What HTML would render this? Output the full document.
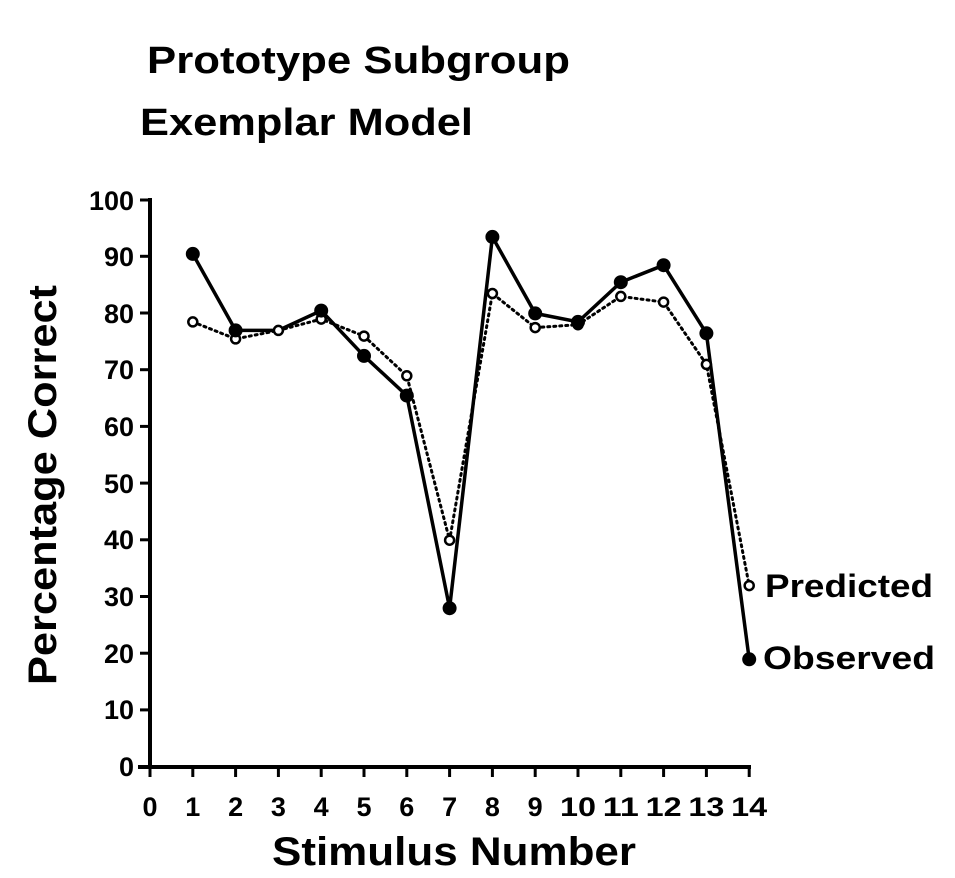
<!DOCTYPE html>
<html><head><style>body{margin:0;background:#fff}</style></head><body>
<svg width="955" height="873" xmlns="http://www.w3.org/2000/svg" font-family="Liberation Sans, sans-serif" font-weight="bold">
<text x="147" y="73" font-size="38" textLength="423" lengthAdjust="spacingAndGlyphs">Prototype Subgroup</text>
<text x="140" y="135" font-size="38" textLength="333" lengthAdjust="spacingAndGlyphs">Exemplar Model</text>
<g stroke="#000" stroke-width="4" fill="none">
<line x1="150" y1="198" x2="150" y2="769"/>
<line x1="138" y1="767" x2="751" y2="767"/>
</g>
<g stroke="#000" stroke-width="3">
<line x1="140" y1="200" x2="150" y2="200"/><line x1="140" y1="256.3" x2="150" y2="256.3"/><line x1="140" y1="313" x2="150" y2="313"/><line x1="140" y1="369.7" x2="150" y2="369.7"/><line x1="140" y1="426.4" x2="150" y2="426.4"/><line x1="140" y1="483.1" x2="150" y2="483.1"/><line x1="140" y1="539.8" x2="150" y2="539.8"/><line x1="140" y1="596.5" x2="150" y2="596.5"/><line x1="140" y1="653.2" x2="150" y2="653.2"/><line x1="140" y1="709.9" x2="150" y2="709.9"/>
<line x1="150" y1="767" x2="150" y2="777"/><line x1="192.8" y1="767" x2="192.8" y2="777"/><line x1="235.6" y1="767" x2="235.6" y2="777"/><line x1="278.4" y1="767" x2="278.4" y2="777"/><line x1="321.2" y1="767" x2="321.2" y2="777"/><line x1="364" y1="767" x2="364" y2="777"/><line x1="406.8" y1="767" x2="406.8" y2="777"/><line x1="449.6" y1="767" x2="449.6" y2="777"/><line x1="492.4" y1="767" x2="492.4" y2="777"/><line x1="535.2" y1="767" x2="535.2" y2="777"/><line x1="578" y1="767" x2="578" y2="777"/><line x1="620.8" y1="767" x2="620.8" y2="777"/><line x1="663.6" y1="767" x2="663.6" y2="777"/><line x1="706.4" y1="767" x2="706.4" y2="777"/><line x1="749.2" y1="767" x2="749.2" y2="777"/>
</g>
<g font-size="27" text-anchor="end">
<text x="134" y="210">100</text><text x="134" y="266">90</text><text x="134" y="323">80</text><text x="134" y="379">70</text><text x="134" y="436">60</text><text x="134" y="493">50</text><text x="134" y="549">40</text><text x="134" y="606">30</text><text x="134" y="663">20</text><text x="134" y="719">10</text><text x="134" y="776">0</text>
</g>
<g font-size="27" text-anchor="middle">
<text x="150" y="816">0</text><text x="192.8" y="816">1</text><text x="235.6" y="816">2</text><text x="278.4" y="816">3</text><text x="321.2" y="816">4</text><text x="364" y="816">5</text><text x="406.8" y="816">6</text><text x="449.6" y="816">7</text><text x="492.4" y="816">8</text><text x="535.2" y="816">9</text><text x="578" y="816" textLength="36" lengthAdjust="spacingAndGlyphs">10</text><text x="620.8" y="816" textLength="36" lengthAdjust="spacingAndGlyphs">11</text><text x="663.6" y="816" textLength="36" lengthAdjust="spacingAndGlyphs">12</text><text x="706.4" y="816" textLength="36" lengthAdjust="spacingAndGlyphs">13</text><text x="749.2" y="816" textLength="36" lengthAdjust="spacingAndGlyphs">14</text>
</g>
<text x="272" y="865" font-size="40" textLength="364" lengthAdjust="spacingAndGlyphs">Stimulus Number</text>
<text transform="translate(56,685) rotate(-90)" font-size="40" textLength="400" lengthAdjust="spacingAndGlyphs">Percentage Correct</text>
<polyline fill="none" stroke="#000" stroke-width="3" stroke-dasharray="2,4" stroke-linecap="round" points="192.8,321.9 235.6,338.9 278.4,330.4 321.2,319.1 364,336.1 406.8,375.8 449.6,540.2 492.4,293.5 535.2,327.6 578,324.7 620.8,296.4 663.6,302.1 706.4,364.4 749.2,585.6"/>
<polyline fill="none" stroke="#000" stroke-width="3.5" points="192.8,253.9 235.6,330.4 278.4,330.4 321.2,310.6 364,355.9 406.8,395.6 449.6,608.2 492.4,236.9 535.2,313.4 578,321.9 620.8,282.2 663.6,265.2 706.4,333.3 749.2,659.3"/>
<g fill="#fff" stroke="#000" stroke-width="2.5">
<circle cx="192.8" cy="321.9" r="4.5"/><circle cx="235.6" cy="338.9" r="4.5"/><circle cx="278.4" cy="330.4" r="4.5"/><circle cx="321.2" cy="319.1" r="4.5"/><circle cx="364" cy="336.1" r="4.5"/><circle cx="406.8" cy="375.8" r="4.5"/><circle cx="449.6" cy="540.2" r="4.5"/><circle cx="492.4" cy="293.5" r="4.5"/><circle cx="535.2" cy="327.6" r="4.5"/><circle cx="578" cy="324.7" r="4.5"/><circle cx="620.8" cy="296.4" r="4.5"/><circle cx="663.6" cy="302.1" r="4.5"/><circle cx="706.4" cy="364.4" r="4.5"/><circle cx="749.2" cy="585.6" r="4.5"/>
</g>
<g fill="#000">
<circle cx="192.8" cy="253.9" r="7"/><circle cx="235.6" cy="330.4" r="7"/><circle cx="321.2" cy="310.6" r="7"/><circle cx="364" cy="355.9" r="7"/><circle cx="406.8" cy="395.6" r="7"/><circle cx="449.6" cy="608.2" r="7"/><circle cx="492.4" cy="236.9" r="7"/><circle cx="535.2" cy="313.4" r="7"/><circle cx="578" cy="321.9" r="7"/><circle cx="620.8" cy="282.2" r="7"/><circle cx="663.6" cy="265.2" r="7"/><circle cx="706.4" cy="333.3" r="7"/><circle cx="749.2" cy="659.3" r="7"/>
</g>
<text x="765" y="597" font-size="32" textLength="168" lengthAdjust="spacingAndGlyphs">Predicted</text>
<text x="763" y="669" font-size="32" textLength="172" lengthAdjust="spacingAndGlyphs">Observed</text>
</svg>
</body></html>
